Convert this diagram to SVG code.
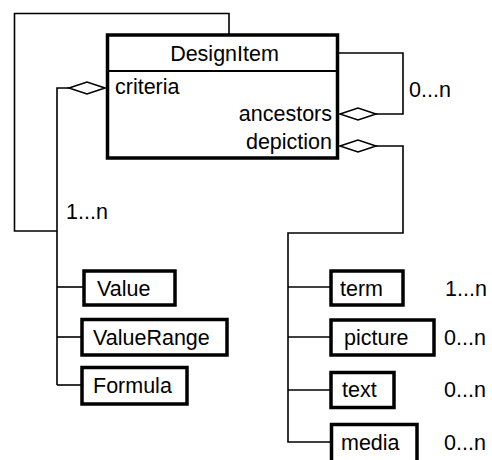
<svg xmlns="http://www.w3.org/2000/svg" width="492" height="460" viewBox="0 0 492 460">
<style>
.box{fill:#fff;stroke:#000;stroke-width:3.5}
.div{stroke:#000;stroke-width:2}
.ln{fill:none;stroke:#000;stroke-width:1.6}
.dia{fill:#fff;stroke:#000;stroke-width:1.6}
text{font-family:"Liberation Sans",Arial,sans-serif;font-size:21.5px;fill:#000}
</style>
<rect width="492" height="460" fill="#fff"/>
<g id="connectors">
<polyline class="ln" points="229,35 229,13.5 14.5,13.5 14.5,231 57,231"/>
<polyline class="ln" points="69,88 57,88 57,385"/>
<line class="ln" x1="57" y1="287" x2="84" y2="287"/>
<line class="ln" x1="57" y1="337" x2="82" y2="337"/>
<line class="ln" x1="57" y1="385" x2="82" y2="385"/>
<polygon class="dia" points="105,88 87,82 69,88 87,94"/>
<polyline class="ln" points="338,53 403,53 403,114 376,114"/>
<polygon class="dia" points="340,114 358,108 376,114 358,120"/>
<polyline class="ln" points="376,146 403,146 403,233 288,233 288,442 331,442"/>
<polygon class="dia" points="340,146 358,140 376,146 358,152"/>
<line class="ln" x1="288" y1="287" x2="331" y2="287"/>
<line class="ln" x1="288" y1="337" x2="331" y2="337"/>
<line class="ln" x1="288" y1="390" x2="331" y2="390"/>
<text x="66" y="219">1...n</text>
<text x="409" y="97">0...n</text>
<text x="445" y="296">1...n</text>
<text x="444" y="345">0...n</text>
<text x="444" y="397">0...n</text>
<text x="444" y="450">0...n</text>
</g>
<g id="DesignItem">
<rect class="box" x="107.5" y="35" width="230" height="123"/>
<line class="div" x1="107.5" y1="71" x2="337.5" y2="71"/>
<text x="224.5" y="61" text-anchor="middle">DesignItem</text>
<text x="115" y="94">criteria</text>
<text x="332" y="121" text-anchor="end">ancestors</text>
<text x="332" y="149" text-anchor="end">depiction</text>
</g>
<g id="Value">
<rect class="box" x="84" y="271" width="91" height="34"/>
<text x="97" y="296">Value</text>
</g>
<g id="ValueRange">
<rect class="box" x="82" y="319.5" width="145" height="35.5"/>
<text x="93" y="345">ValueRange</text>
</g>
<g id="Formula">
<rect class="box" x="82" y="367.5" width="105" height="36.5"/>
<text x="93" y="393">Formula</text>
</g>
<g id="term">
<rect class="box" x="331" y="271" width="72" height="34"/>
<text x="340" y="296">term</text>
</g>
<g id="picture">
<rect class="box" x="331" y="320" width="103" height="35"/>
<text x="344" y="345">picture</text>
</g>
<g id="text">
<rect class="box" x="331" y="372.5" width="63" height="35"/>
<text x="342" y="397">text</text>
</g>
<g id="media">
<rect class="box" x="331.5" y="424.5" width="85.5" height="40"/>
<text x="341" y="450">media</text>
</g>
</svg>
